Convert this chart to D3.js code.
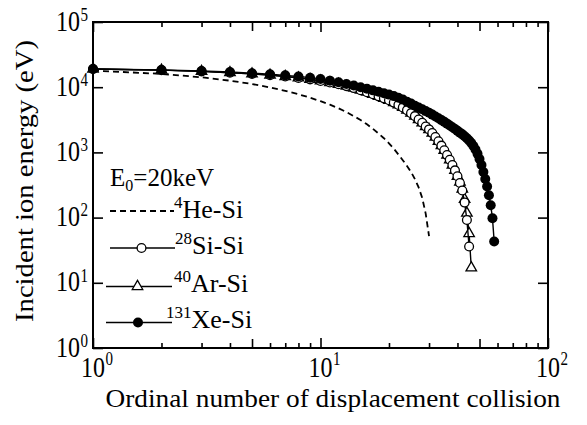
<!DOCTYPE html>
<html><head><meta charset="utf-8">
<script src="https://cdn.jsdelivr.net/npm/d3@7"></script>
<style>
body{margin:0;background:#fff}
svg text{font-family:"Liberation Serif","Times New Roman",serif;fill:#000}
</style>
</head><body>
<svg id="c" width="587" height="425"></svg>
<script>
// Incident ion energy (eV) for collision numbers 1,2,3,...
const heE = [18000,16000,14200,12600,11200,9900,8800,7800,6900,6100,5400,4750,4150,3600,3150,2700,2300,1950,1650,1380,1140,930,760,620,500,390,290,200,115,52];
const siE = [19000,18300,17500,16700,16000,15300,14600,13900,13200,12500,11800,11100,10400,9700,9000,8400,7800,7250,6750,6300,5800,5350,4900,4450,4000,3600,3200,2850,2500,2250,1980,1720,1480,1270,1080,910,770,640,530,430,340,260,170,92,36];
const arE = [19000,18300,17500,16700,16000,15300,14600,13900,13200,12500,11800,11100,10400,9700,9000,8400,7800,7250,6750,6300,5800,5350,4900,4450,4000,3600,3200,2850,2500,2250,1980,1720,1480,1270,1080,910,770,640,530,430,350,275,190,117,57,17];
const xeE = [19000,18400,17700,17100,16400,15800,15200,14600,14000,13400,12600,11900,11200,10600,10000,9450,8950,8500,8100,7700,7300,6900,6450,6000,5600,5200,4880,4580,4300,4050,3800,3560,3340,3130,2940,2760,2590,2430,2280,2140,2010,1890,1770,1650,1520,1390,1250,1110,950,790,640,500,390,300,220,155,98,43];
const xMajor = [1,10,100];
const xMid = [5,50];
const xMinor = [2,3,4,6,7,8,9,20,30,40,60,70,80,90];
const yMajor = [1,10,100,1000,10000,100000];
const xTickLabels = ["0","1","2"];
const yTickLabels = ["0","1","2","3","4","5"];
const legendLabels = [["4","He-Si"],["28","Si-Si"],["40","Ar-Si"],["131","Xe-Si"]];

const svg = d3.select("#c");
const L=93,R=548,T=22,B=348;
const x = d3.scaleLog().domain([1,100]).range([L,R]);
const y = d3.scaleLog().domain([1,1e5]).range([B,T]);

function tickAxis(axisFn, vals, len, tr){
  const g = svg.append("g").attr("transform",tr)
    .call(axisFn.tickValues(vals).tickSize(len).tickFormat(""));
  g.select(".domain").remove();
  g.selectAll(".tick line").attr("stroke","#000").attr("stroke-width",1.6);
}
[[xMajor,10],[xMid,9],[xMinor,5]].forEach(([v,l])=>{
  tickAxis(d3.axisBottom(x), v, -l, `translate(0,${B})`);
  tickAxis(d3.axisTop(x), v, -l, `translate(0,${T})`);
});
tickAxis(d3.axisLeft(y), yMajor, -10, `translate(${L},0)`);
tickAxis(d3.axisRight(y), yMajor, -10, `translate(${R},0)`);

svg.append("rect").attr("x",L).attr("y",T).attr("width",R-L).attr("height",B-T)
  .attr("fill","none").attr("stroke","#000").attr("stroke-width",2);

// tick labels
xMajor.forEach((v,i)=>{
  const g = svg.append("g").attr("transform",`translate(${x(v)},377) scale(1,1.22)`);
  g.append("text").attr("text-anchor","middle").attr("font-size",24).text("10");
  g.append("text").attr("x",12.5).attr("y",-10).attr("font-size",15).text(xTickLabels[i]);
});
yMajor.forEach((v,i)=>{
  const g = svg.append("g").attr("transform",`translate(80,${y(v)+8.5}) scale(1,1.22)`);
  g.append("text").attr("text-anchor","end").attr("font-size",24).text("10");
  g.append("text").attr("x",0.5).attr("y",-8).attr("font-size",15).text(yTickLabels[i]);
});

// axis titles
svg.append("text").attr("x",333).attr("y",407).attr("text-anchor","middle")
  .attr("font-size",26).attr("textLength",455).attr("lengthAdjust","spacingAndGlyphs")
  .text("Ordinal number of displacement collision");
svg.append("text").attr("transform","translate(33,181) rotate(-90)").attr("text-anchor","middle")
  .attr("font-size",26).attr("textLength",282).attr("lengthAdjust","spacingAndGlyphs")
  .text("Incident ion energy (eV)");

const line = d3.line().x((d,i)=>x(i+1)).y(d=>y(d));
const plot = svg.append("g");

plot.append("path").datum(heE).attr("d",line).attr("fill","none")
  .attr("stroke","#000").attr("stroke-width",1.8).attr("stroke-dasharray","6,4");
plot.append("path").datum(arE).attr("d",line).attr("fill","none").attr("stroke","#000").attr("stroke-width",1.4);
const tri = d3.symbol().type(d3.symbolTriangle).size(48);
plot.selectAll(".ar").data(arE).enter().append("path")
  .attr("transform",(d,i)=>`translate(${x(i+1)},${y(d)})`).attr("d",tri)
  .attr("fill","#fff").attr("stroke","#000").attr("stroke-width",1.3);
plot.append("path").datum(siE).attr("d",line).attr("fill","none").attr("stroke","#000").attr("stroke-width",1.4);
plot.selectAll(".si").data(siE).enter().append("circle")
  .attr("cx",(d,i)=>x(i+1)).attr("cy",d=>y(d)).attr("r",4.4)
  .attr("fill","#fff").attr("stroke","#000").attr("stroke-width",1.3);
plot.append("path").datum(xeE).attr("d",line).attr("fill","none").attr("stroke","#000").attr("stroke-width",1.4);
plot.selectAll(".xe").data(xeE).enter().append("circle")
  .attr("cx",(d,i)=>x(i+1)).attr("cy",d=>y(d)).attr("r",5)
  .attr("fill","#000");

// legend
const lg = svg.append("g");
const t0 = lg.append("text").attr("x",110).attr("y",186).attr("font-size",25);
t0.append("tspan").text("E");
t0.append("tspan").attr("font-size",16).attr("dy",5).text("0");
t0.append("tspan").attr("dy",-5).text("=20keV");

const rows = [
  {y:211, x1:110, x2:174, tx:174, ty:218, type:"dash"},
  {y:248, x1:110, x2:175, mx:141.5, tx:175, ty:254, type:"open"},
  {y:286.5, x1:106, x2:172, mx:137.5, tx:174, ty:292, type:"tri"},
  {y:322.5, x1:106, x2:172, mx:138, tx:166, ty:328, type:"fill"}
];
rows.forEach((r,i)=>{
  const ln = lg.append("line").attr("x1",r.x1).attr("x2",r.x2).attr("y1",r.y).attr("y2",r.y)
    .attr("stroke","#000").attr("stroke-width",r.type==="dash"?1.8:1.4);
  if(r.type==="dash") ln.attr("stroke-dasharray","6,4");
  if(r.type==="open") lg.append("circle").attr("cx",r.mx).attr("cy",r.y).attr("r",4.4)
      .attr("fill","#fff").attr("stroke","#000").attr("stroke-width",1.3);
  if(r.type==="tri") lg.append("path").attr("transform",`translate(${r.mx},${r.y})`).attr("d",tri)
      .attr("fill","#fff").attr("stroke","#000").attr("stroke-width",1.3);
  if(r.type==="fill") lg.append("circle").attr("cx",r.mx).attr("cy",r.y).attr("r",5).attr("fill","#000");
  const t = lg.append("text").attr("x",r.tx).attr("y",r.ty).attr("font-size",26);
  t.append("tspan").attr("font-size",17).attr("dy",-10).text(legendLabels[i][0]);
  t.append("tspan").attr("dy",10).text(legendLabels[i][1]);
});
</script>
</body></html>
